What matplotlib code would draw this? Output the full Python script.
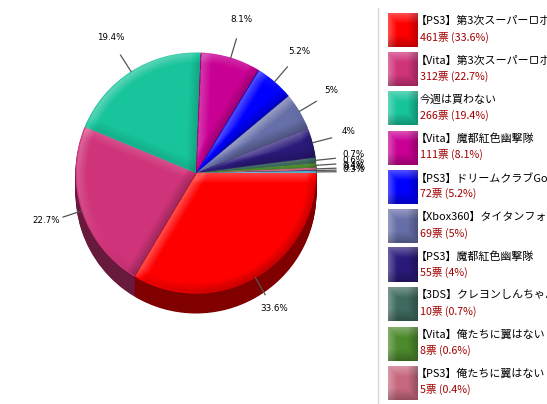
import numpy as np
import matplotlib
matplotlib.use("Agg")
import matplotlib.pyplot as plt
from matplotlib.colors import to_rgb

plt.rcParams['font.family'] = ['Noto Sans CJK JP', 'DejaVu Sans']

names = ["【PS3】第3次スーパーロボット大戦Z", "【Vita】第3次スーパーロボット大戦Z", "今週は買わない",
         "【Vita】魔都紅色幽撃隊", "【PS3】ドリームクラブGogo.", "【Xbox360】タイタンフォール",
         "【PS3】魔都紅色幽撃隊", "【3DS】クレヨンしんちゃん", "【Vita】俺たちに翼はない", "【PS3】俺たちに翼はない"]
votes = [461, 312, 266, 111, 72, 69, 55, 10, 8, 5]
percents = ["33.6", "22.7", "19.4", "8.1", "5.2", "5", "4", "0.7", "0.6", "0.4"]
extra_votes = [1, 4]
extra_percents = ["0.1", "0.3"]
colors = ["#ff0000", "#cf337a", "#17c49b", "#c90094", "#0000ff", "#666fa8", "#2b1a7a",
          "#3f6a60", "#4c8a2c", "#c8697f", "#2020a0", "#50b4d0"]

W, H = 547, 404
cx, cy, R, depth = 196, 173, 120.5, 20

fig = plt.figure(figsize=(W / 100, H / 100), dpi=100)
ax = fig.add_axes([0, 0, 1, 1])
ax.set_xlim(0, W)
ax.set_ylim(0, H)
ax.axis("off")
Y = lambda py: H - py

all_votes = np.array(votes + extra_votes, float)
all_pct = percents + extra_percents
fracs = all_votes / all_votes.sum()
edges = np.concatenate([[0], np.cumsum(fracs)]) * 360

# extruded side
dark = [tuple(0.5 * c for c in to_rgb(col)) for col in colors]
for d in range(depth, 0, -1):
    ax.pie(all_votes, colors=dark, center=(cx, Y(cy + d)), radius=R, startangle=0,
           counterclock=False, wedgeprops=dict(linewidth=0), frame=False)
# top face
ax.pie(all_votes, colors=colors, center=(cx, Y(cy)), radius=R, startangle=0,
       counterclock=False, wedgeprops=dict(linewidth=0), frame=False)
ax.set_xlim(0, W)
ax.set_ylim(0, H)
ax.set_aspect("auto")
ax.axis("off")

# bevel shading on the top face
ss = 2
xs = np.arange(cx - R - 1, cx + R + 1, 1 / ss)
ys = np.arange(cy - R - 1, cy + R + 1, 1 / ss)
X, YY = np.meshgrid(xs, ys)
dx, dy = X - cx, YY - cy
r = np.hypot(dx, dy)
th = np.degrees(np.arctan2(dy, dx)) % 360
L = np.array([-0.64, -0.77])
shade = np.zeros_like(r)
nx, ny = dx / np.maximum(r, 1e-6), dy / np.maximum(r, 1e-6)
shade += np.clip(1 - (R - r) / 11, 0, 1) * (nx * L[0] + ny * L[1]) * 1.0
for a0, a1 in zip(edges[:-1], edges[1:]):
    m = (th >= a0) & (th < a1)
    d0 = np.radians(th - a0)
    d1 = np.radians(a1 - th)
    a0r, a1r = np.radians(a0), np.radians(a1)
    n0 = np.array([np.sin(a0r), -np.cos(a0r)])
    n1 = np.array([-np.sin(a1r), np.cos(a1r)])
    s0 = np.clip(1 - r * np.sin(np.minimum(d0, np.pi / 2)) / 11, 0, 1) * (n0 @ L)
    s1 = np.clip(1 - r * np.sin(np.minimum(d1, np.pi / 2)) / 11, 0, 1) * (n1 @ L)
    shade[m] += s0[m] + s1[m]
shade = np.clip(shade, -1, 1)
rgba = np.zeros(r.shape + (4,))
rgba[..., :3] = (shade > 0)[..., None] * 1.0
rgba[..., 3] = np.abs(shade) * np.where(shade > 0, 0.34, 0.26) * np.clip(R - r, 0, 1)
ax.imshow(rgba, extent=(xs[0], xs[-1], Y(ys[-1]), Y(ys[0])), origin="upper",
          interpolation="bilinear", aspect="auto", zorder=5)

# leader lines and percent labels
for a0, a1, p in zip(edges[:-1], edges[1:], all_pct):
    mid = np.radians((a0 + a1) / 2)
    c, s = np.cos(mid), np.sin(mid)
    ax.plot([cx + R * c, cx + 140 * c], [Y(cy + R * s), Y(cy + 140 * s)],
            color="#555555", lw=0.9, zorder=6)
    ax.text(cx + 158 * c, Y(cy + 158 * s) + 2, p + "%", fontsize=6.3, color="black",
            ha="center", va="center", family="DejaVu Sans", zorder=7)

# legend panel
ax.plot([377.5, 377.5], [Y(8), Y(404)], color="#d8d8d8", lw=1, zorder=1)
sw = np.linspace(0, 1, 30)
SX, SY = np.meshgrid(sw, sw)
for i, (n, v, p, col) in enumerate(zip(names, votes, percents, colors)):
    top = 13 + i * 39.2
    base = np.array(to_rgb(col))
    lt = np.clip(1 - np.minimum(SX, SY) / 0.3, 0, 1)[..., None] * 0.3
    dk = np.clip((np.maximum(SX, SY) - 0.65) / 0.35, 0, 1)[..., None] * 0.25
    img = base * (1 - lt) + lt
    img = img * (1 - dk)
    ax.imshow(img, extent=(388, 418, Y(top + 34), Y(top)), origin="upper",
              aspect="auto", interpolation="bilinear", zorder=3)
    name_x = 416 if n.startswith("【") else 420
    ax.text(name_x, Y(top + 8), n, fontsize=7.9, color="black", ha="left", va="center")
    ax.text(420, Y(top + 24), f"{v}票 ({p}%)", fontsize=7.7, color="#a00000",
            ha="left", va="center")

ax.set_xlim(0, W)
ax.set_ylim(0, H)
fig.savefig("out.png", dpi=100)
